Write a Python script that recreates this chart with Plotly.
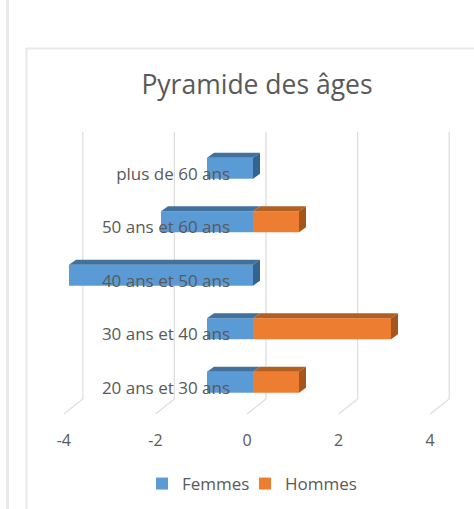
import plotly.graph_objects as go

categories = ["20 ans et 30 ans", "30 ans et 40 ans", "40 ans et 50 ans", "50 ans et 60 ans", "plus de 60 ans"]
femmes = [-1, -1, -4, -2, -1]
hommes = [1, 3, 0, 1, 0]
ticks = [-4, -2, 0, 2, 4]
tick_labels = ["-4", "-2", "0", "2", "4"]

W, H = 474, 509
SCALE = 46.0
LABEL_SCALE = 45.8
BAR_ZERO, LABEL_ZERO = 253, 247
WALL_SHIFT = 19 / LABEL_SCALE
CAT_PX = 53.5
BAR_W = 21 / CAT_PX
DX, DY = 7 / SCALE, 5 / CAT_PX
BLUE, BLUE_TOP, BLUE_SIDE = "#5B9BD5", "#41719C", "#33648F"
ORANGE, ORANGE_TOP, ORANGE_SIDE = "#ED7D31", "#B35F22", "#A5561D"
TXT = "#595959"
GRID = "#DEDEDE"
FRAME = "#E9E9E9"
FONT = "'Open Sans', sans-serif"

pos = list(range(len(categories)))
h = BAR_W / 2

fig = go.Figure()
fig.add_bar(y=pos, x=femmes, orientation="h", name="Femmes", marker=dict(color=BLUE, line_width=0), width=BAR_W,
            legend="legend")
fig.add_bar(y=pos, x=hommes, orientation="h", name="Hommes", marker=dict(color=ORANGE, line_width=0), width=BAR_W,
            legend="legend2")


def poly(xs, ys, color):
    fig.add_scatter(x=xs, y=ys, fill="toself", fillcolor=color, mode="lines", line=dict(width=0),
                    showlegend=False, hoverinfo="skip")


for p, f, m in zip(pos, femmes, hommes):
    top = p + h
    bot = p - h
    poly([f, 0, DX, f + DX, f], [top, top, top + DY, top + DY, top], BLUE_TOP)
    if m > 0:
        poly([0, m, m + DX, DX, 0], [top, top, top + DY, top + DY, top], ORANGE_TOP)
        poly([m, m + DX, m + DX, m, m], [bot, bot + DY, top + DY, top, bot], ORANGE_SIDE)
    else:
        poly([0, DX, DX, 0, 0], [bot, bot + DY, top + DY, top, bot], BLUE_SIDE)

# carriers for the label axes
fig.add_scatter(x=[ticks[0], ticks[-1]], y=[0, 0], xaxis="x2", yaxis="y", mode="lines",
                line=dict(width=0), showlegend=False, hoverinfo="skip")
fig.add_scatter(x=[0, 0], y=[pos[0], pos[-1]], xaxis="x", yaxis="y2", mode="lines",
                line=dict(width=0), showlegend=False, hoverinfo="skip")

shapes = []
for t in ticks:
    # floor line
    shapes.append(dict(type="line", xref="x2", yref="paper", x0=t, x1=t + WALL_SHIFT,
                       y0=(H - 414) / H, y1=(H - 399) / H, line=dict(color=GRID, width=1.3), layer="below"))
    # back-wall gridline
    shapes.append(dict(type="line", xref="x2", yref="paper", x0=t + WALL_SHIFT, x1=t + WALL_SHIFT,
                       y0=(H - 399) / H, y1=(H - 132) / H, line=dict(color=GRID, width=1.3), layer="below"))
# outer frames
shapes.append(dict(type="line", xref="paper", yref="paper", x0=7.5 / W, x1=7.5 / W, y0=0, y1=1,
                   line=dict(color=FRAME, width=3), layer="below"))
shapes.append(dict(type="line", xref="paper", yref="paper", x0=26.5 / W, x1=26.5 / W, y0=0, y1=(H - 48) / H,
                   line=dict(color=FRAME, width=2), layer="below"))
shapes.append(dict(type="line", xref="paper", yref="paper", x0=26 / W, x1=1, y0=(H - 48.5) / H, y1=(H - 48.5) / H,
                   line=dict(color=FRAME, width=2), layer="below"))

legend_style = dict(orientation="h", xanchor="left", y=(H - 484) / H, yanchor="middle",
                    font=dict(size=17, color=TXT, family=FONT), bgcolor="rgba(0,0,0,0)")

fig.update_layout(
    width=W, height=H, margin=dict(l=0, r=0, t=0, b=0), paper_bgcolor="white", plot_bgcolor="rgba(0,0,0,0)",
    barmode="overlay", font=dict(family=FONT, color=TXT), shapes=shapes,
    title=dict(text="Pyramide des âges", x=257 / W, xanchor="center", y=(H - 85) / H, yanchor="middle",
               font=dict(size=26.5, color=TXT, family=FONT)),
    xaxis=dict(range=[-BAR_ZERO / SCALE, (W - BAR_ZERO) / SCALE], domain=[0, 1], visible=False),
    xaxis2=dict(range=[-LABEL_ZERO / LABEL_SCALE, (W - LABEL_ZERO) / LABEL_SCALE], domain=[0, 1], overlaying="x",
                anchor="free", position=(H - 429) / H, tickvals=ticks, ticktext=tick_labels, showgrid=False,
                zeroline=False, showline=False, ticks="", tickfont=dict(size=16, color=TXT, family=FONT)),
    yaxis=dict(range=[-0.5, 4.5], domain=[(H - 409) / H, (H - 141.5) / H], visible=False),
    yaxis2=dict(range=[-0.5, 4.5], domain=[(H - 414.5) / H, (H - 147) / H], anchor="free", position=230 / W,
                tickvals=pos, ticktext=categories, showgrid=False, zeroline=False, showline=False,
                ticks="", tickfont=dict(size=17, color=TXT, family=FONT)),
    legend=dict(x=142 / W, **legend_style),
    legend2=dict(x=245 / W, **legend_style),
)

fig.write_html("out.html", post_script="document.body.style.margin='0';", config={"displayModeBar": False})
